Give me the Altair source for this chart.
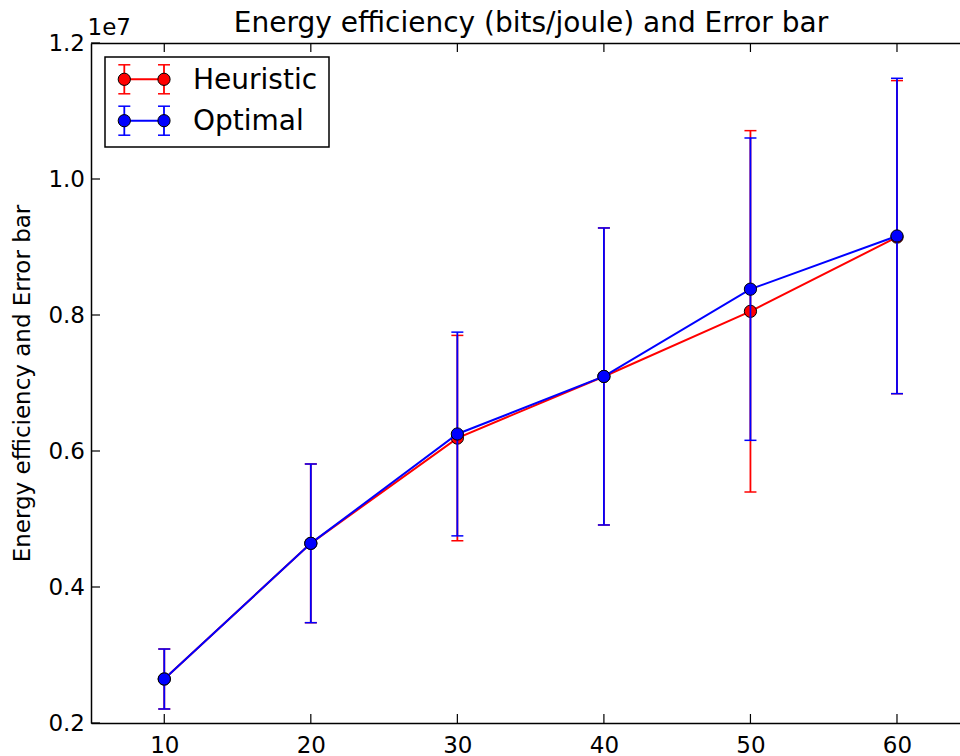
import altair as alt
import pandas as pd

# Network size on the x axis, energy efficiency (bits/joule) on the y axis
x_vals = [10, 20, 30, 40, 50, 60]

heuristic_mean = [2647000, 4642000, 6190000, 7096000, 8054000, 9145000]
heuristic_err = [441000, 1167000, 1510000, 2184000, 2657000, 2302000]

optimal_mean = [2647000, 4642000, 6250000, 7096000, 8380000, 9162000]
optimal_err = [441000, 1167000, 1498000, 2184000, 2223000, 2319000]

series_names = ["Heuristic", "Optimal"]
series_colors = ["#ff0000", "#0000ff"]

x_ticks = [10, 20, 30, 40, 50, 60]
y_ticks = [2000000, 4000000, 6000000, 8000000, 10000000, 12000000]

TITLE = "Energy efficiency (bits/joule) and Error bar"
FONT = "DejaVu Sans"
W, H = 869, 680

x_scale = alt.Scale(domain=[5, 64.3], nice=False, zero=False)
y_scale = alt.Scale(domain=[2000000, 12000000], nice=False, zero=False)


def series_frame(name, means, errs):
    return pd.DataFrame({
        "series": name,
        "x": x_vals,
        "y": means,
        "lo": [m - e for m, e in zip(means, errs)],
        "hi": [m + e for m, e in zip(means, errs)],
    })


frames = [
    series_frame(series_names[0], heuristic_mean, heuristic_err),
    series_frame(series_names[1], optimal_mean, optimal_err),
]

layers = []

# Frame and inward ticks
xt = pd.DataFrame({"t": x_ticks})
yt = pd.DataFrame({"v": y_ticks})

bottom_axis = alt.Axis(
    orient="bottom", values=x_ticks, ticks=False, title=None, grid=False,
    labelFont=FONT, labelFontSize=23, labelColor="black", labelPadding=11,
    domainColor="black", domainWidth=1.5, labelFlush=False,
)
top_axis = alt.Axis(
    orient="top", values=x_ticks, ticks=False, labels=False, title=None,
    grid=False, domainColor="black", domainWidth=1.5,
)
left_axis = alt.Axis(
    orient="left", values=y_ticks, ticks=False, grid=False,
    labelExpr="format(datum.value / 10000000, '.1f')",
    labelFont=FONT, labelFontSize=23, labelColor="black", labelPadding=6.5,
    labelFlush=False,
    title="Energy efficiency and Error bar", titleFont=FONT,
    titleFontSize=23, titleFontWeight="normal", titleColor="black",
    titleBaseline="alphabetic", titleX=-61.5,
    domainColor="black", domainWidth=1.5,
)

layers.append(
    alt.Chart(xt).mark_rule(color="black", strokeWidth=1.2).encode(
        x=alt.X("t:Q", scale=x_scale, axis=bottom_axis),
        y=alt.value(H - 9), y2=alt.value(H),
    )
)
layers.append(
    alt.Chart(xt).mark_rule(color="black", strokeWidth=1.2).encode(
        x=alt.X("t:Q", scale=x_scale, axis=top_axis),
        y=alt.value(0), y2=alt.value(9),
    )
)
layers.append(
    alt.Chart(yt).mark_rule(color="black", strokeWidth=1.2).encode(
        y=alt.Y("v:Q", scale=y_scale, axis=left_axis),
        x=alt.value(0), x2=alt.value(9),
    )
)

# Error bars, lines and markers, one series after the other
for df, color in zip(frames, series_colors):
    base = alt.Chart(df)
    X = alt.X("x:Q", scale=x_scale, axis=None)
    layers.append(
        base.mark_rule(color=color, strokeWidth=1.8).encode(
            x=X, y=alt.Y("lo:Q", scale=y_scale, axis=None), y2="hi:Q",
        )
    )
    for end in ["lo", "hi"]:
        layers.append(
            base.mark_rule(color=color, strokeWidth=1.5,
                           xOffset=-6, x2Offset=6).encode(
                x=X, x2="x:Q",
                y=alt.Y(f"{end}:Q", scale=y_scale, axis=None),
            )
        )
    layers.append(
        base.mark_line(color=color, strokeWidth=2).encode(
            x=X, y=alt.Y("y:Q", scale=y_scale, axis=None),
        )
    )
    layers.append(
        base.mark_circle(size=150, color=color, opacity=1,
                         stroke="black", strokeWidth=1).encode(
            x=X, y=alt.Y("y:Q", scale=y_scale, axis=None),
        )
    )

# Chart title and the multiplier label above the y axis
layers.append(
    alt.Chart(pd.DataFrame({"t": [TITLE]})).mark_text(
        font=FONT, fontSize=28, align="center", baseline="alphabetic",
        color="black",
    ).encode(text="t:N", x=alt.value(440), y=alt.value(-11))
)
layers.append(
    alt.Chart(pd.DataFrame({"m": ["1e7"]})).mark_text(
        font=FONT, fontSize=23, align="left", baseline="alphabetic",
        color="black",
    ).encode(text="m:N", x=alt.value(-3.5), y=alt.value(-8))
)

# Legend box with error-bar glyphs
layers.append(
    alt.Chart(pd.DataFrame({"k": [0]})).mark_rect(
        fill="white", stroke="black", strokeWidth=1.5,
    ).encode(x=alt.value(14), x2=alt.value(238), y=alt.value(14),
             y2=alt.value(104))
)
row_mid = [36.3, 77.7]
row_base = [46.0, 87.4]
glyph_x = [33.3, 73.0]
for name, color, ym, yb in zip(series_names, series_colors, row_mid, row_base):
    one = alt.Chart(pd.DataFrame({"label": [name]}))
    layers.append(
        one.mark_rule(color=color, strokeWidth=2).encode(
            x=alt.value(glyph_x[0]), x2=alt.value(glyph_x[1]), y=alt.value(ym)
        )
    )
    for gx in glyph_x:
        layers.append(
            one.mark_rule(color=color, strokeWidth=1.8).encode(
                x=alt.value(gx), y=alt.value(ym - 14.5), y2=alt.value(ym + 14.5)
            )
        )
        for cy in (ym - 14.5, ym + 14.5):
            layers.append(
                one.mark_rule(color=color, strokeWidth=1.5).encode(
                    x=alt.value(gx - 6), x2=alt.value(gx + 6), y=alt.value(cy)
                )
            )
        layers.append(
            one.mark_circle(size=150, color=color, opacity=1,
                            stroke="black", strokeWidth=1).encode(
                x=alt.value(gx), y=alt.value(ym)
            )
        )
    layers.append(
        one.mark_text(font=FONT, fontSize=28, align="left",
                      baseline="alphabetic", color="black").encode(
            text="label:N", x=alt.value(102), y=alt.value(yb)
        )
    )

chart = alt.layer(*layers).resolve_axis(
    x="independent", y="independent"
).properties(
    width=W,
    height=H,
    autosize=alt.AutoSizeParams(type="none"),
    padding={"left": 91, "top": 43, "right": 0, "bottom": 33},
).configure_view(stroke=None).configure(background="white")

chart.save("out.html", embed_options={"renderer": "svg", "actions": False})
